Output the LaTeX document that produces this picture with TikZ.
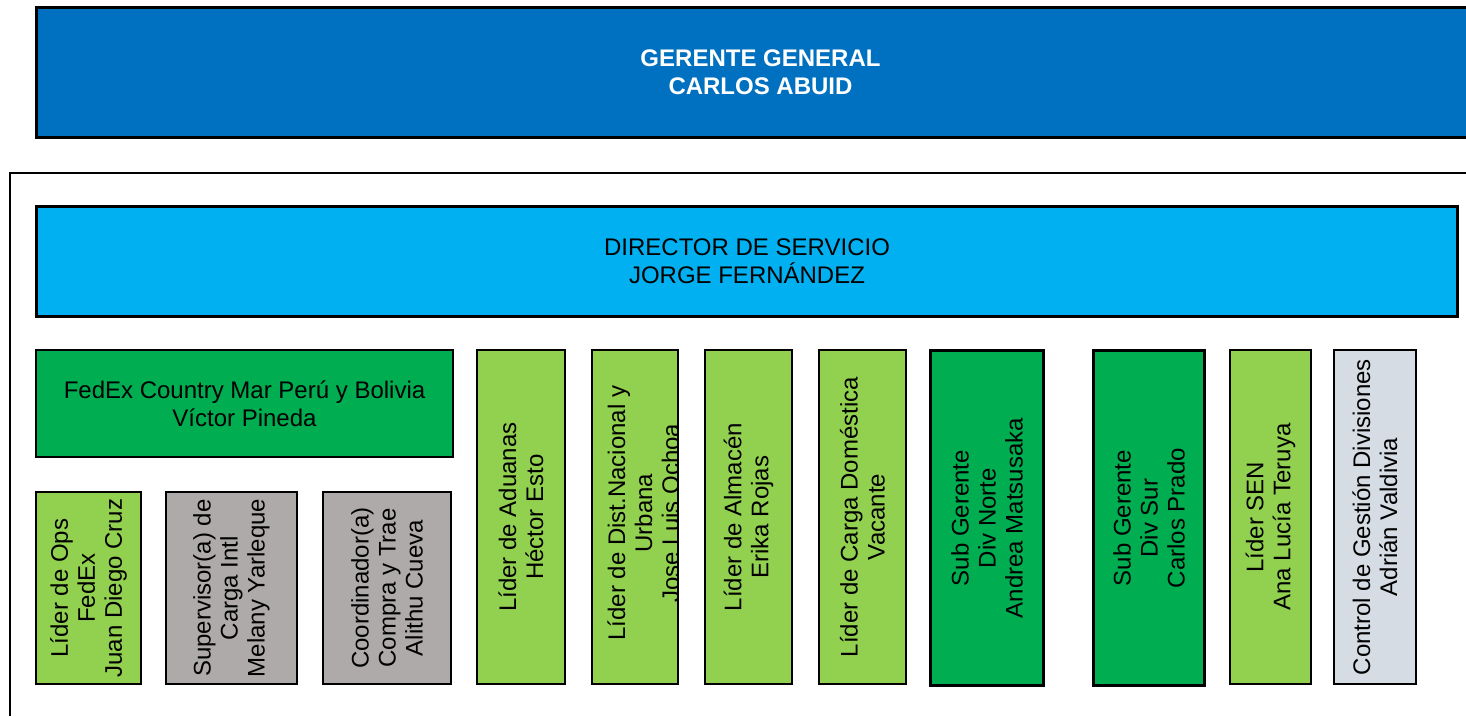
\documentclass[tikz,border=0pt]{standalone}
\usepackage{fontspec}
\setmainfont{Liberation Sans}
\definecolor{topblue}{HTML}{0070C0}
\definecolor{dirblue}{HTML}{00B0F0}
\definecolor{dkgreen}{HTML}{00AD50}
\definecolor{ltgreen}{HTML}{92D050}
\definecolor{midgrey}{HTML}{AEAAAA}
\definecolor{paleblue}{HTML}{D6DCE4}
\tikzset{
  txt/.style={font=\fontsize{24}{27.6}\selectfont, inner sep=0pt, outer sep=0pt, align=center},
  rtxt/.style={font=\fontsize{24}{27}\selectfont, inner sep=0pt, outer sep=0pt, align=center, rotate=90},
  box/.style={txt, draw=black, line width=2pt},
  vbox/.style={rtxt, draw=black, line width=2pt},
}
\begin{document}
\begin{tikzpicture}[x=1pt,y=-1pt]
\useasboundingbox (0,0) rectangle (1466,716);
% outer frame (open to the right and bottom)
\coordinate (fr1) at (1466,172.5);
\coordinate (fr2) at (9.5,172.5);
\coordinate (fr3) at (9.5,716);
\draw[line width=2pt] (fr1) -- (fr2) -- (fr3);
% top box, cut by the right edge of the page
\coordinate (gga) at (36.5,7.5);
\coordinate (ggb) at (1466,137.5);
\fill[topblue] (gga) rectangle (ggb);
\draw[line width=3pt] (gga -| ggb) -- (gga) -- (gga |- ggb) -- (ggb);
\node[txt, text=white, font=\fontsize{24}{27.6}\selectfont\bfseries] (gg) at (760.5,72.5)
  {GERENTE GENERAL\\CARLOS ABUID};
\node[box, fill=dirblue, line width=3pt, minimum width=1421pt, minimum height=110pt] (ds) at (747,261.5)
  {DIRECTOR DE SERVICIO\\JORGE FERN\'ANDEZ};
\node[box, fill=dkgreen, minimum width=417pt, minimum height=107pt] (fx) at (244.5,403.5)
  {FedEx Country Mar Per\'u y Bolivia\\V\'ictor Pineda};
% small boxes under FedEx
\node[vbox, fill=ltgreen, minimum width=192pt, minimum height=105pt] (ops) at (88.5,588)
  {L\'ider de Ops\\FedEx\\Juan Diego Cruz};
\node[vbox, fill=midgrey, minimum width=192pt, minimum height=131pt] (sup) at (231.5,588)
  {Supervisor(a) de\\Carga Intl\\Melany Yarleque};
\node[vbox, fill=midgrey, minimum width=192pt, minimum height=128pt] (coo) at (387,588)
  {Coordinador(a)\\Compra y Trae\\Alithu Cueva};
% tall boxes
\node[vbox, fill=ltgreen, minimum width=334pt, minimum height=88pt] (adu) at (521,517)
  {L\'ider de Aduanas\\H\'ector Esto};
\node[vbox, fill=ltgreen, draw=none, minimum width=334pt, minimum height=86pt] (dist) at (635,517) {};
\begin{scope}
  \clip (dist.south west) rectangle (dist.north east);
  \node[rtxt] (distt) at (643.5,513) {L\'ider de Dist.Nacional y\\Urbana\\Jose Luis Ochoa};
\end{scope}
\draw[line width=2pt] (dist.south west) rectangle (dist.north east);
\node[vbox, fill=ltgreen, minimum width=334pt, minimum height=87pt] (alm) at (748.5,517)
  {L\'ider de Almac\'en\\Erika Rojas};
\node[vbox, fill=ltgreen, minimum width=334pt, minimum height=87pt] (car) at (862.5,517)
  {L\'ider de Carga Dom\'estica\\Vacante};
\node[vbox, fill=dkgreen, line width=3pt, minimum width=335pt, minimum height=113pt] (nor) at (987,518)
  {Sub Gerente\\Div Norte\\Andrea Matsusaka};
\node[vbox, fill=dkgreen, line width=3pt, minimum width=335pt, minimum height=111pt] (sur) at (1149,518)
  {Sub Gerente\\Div Sur\\Carlos Prado};
\node[vbox, fill=ltgreen, minimum width=334pt, minimum height=81pt] (sen) at (1270.5,517)
  {L\'ider SEN\\Ana Luc\'ia Teruya};
\node[vbox, fill=paleblue, minimum width=334pt, minimum height=82pt] (ctl) at (1375,517)
  {Control de Gesti\'on Divisiones\\Adri\'an Valdivia};
\end{tikzpicture}
\end{document}
